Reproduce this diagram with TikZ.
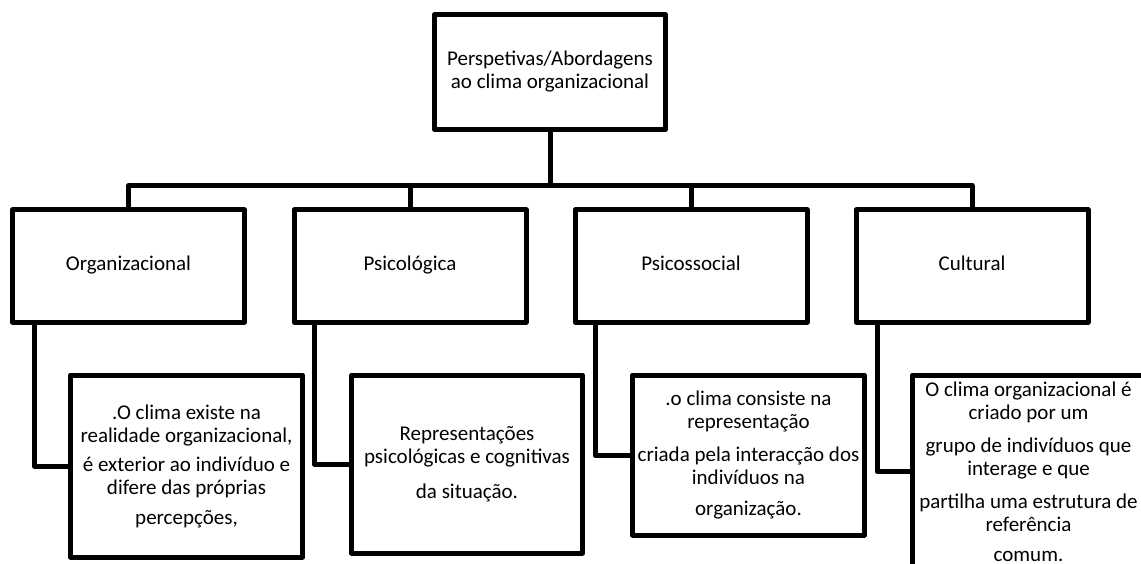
\documentclass[tikz,border=0pt]{standalone}
\usepackage{fontspec}
\setmainfont{Carlito}
\tikzset{
	box/.style={draw, line width=5pt, line join=round, inner sep=2pt, align=center,
		font=\fontsize{21}{23}\selectfont},
	topbox/.style={box, minimum width=231pt, minimum height=115pt},
	catbox/.style={box, minimum width=232pt, minimum height=112pt, text height=15pt, text depth=5pt},
	link/.style={line width=5pt, line join=round}
}
\begin{document}
\begin{tikzpicture}[x=1pt, y=-1pt]
			\clip (0,0) rectangle (1141,564);
			% raiz
			\node[topbox] (root) at (550,72) {Perspetivas/Abordagens\\ao clima organizacional};
			% perspetivas
			\node[catbox] (org) at (128.5,266) {Organizacional};
			\node[catbox] (psic) at (410,266) {Psicológica};
			\node[catbox] (psico) at (691,266) {Psicossocial};
			\node[catbox] (cult) at (972,266) {Cultural};
			% descricoes
			\node[box, minimum width=232pt, minimum height=182pt] (orgd) at (186.5,466)
				{.O clima existe na\\realidade organizacional,\\[6pt]é exterior ao indivíduo e\\difere das próprias\\[7pt]percepções,};
			\node[box, minimum width=231pt, minimum height=178pt] (psicd) at (467,464)
				{Representações\\psicológicas e cognitivas\\[12pt]da situação.};
			\node[box, minimum width=232pt, minimum height=160pt] (psicod) at (748.5,455)
				{.o clima consiste na\\representação\\[10pt]criada pela interacção dos\\indivíduos na\\[8pt]organização.};
			\node[box, minimum width=232pt, minimum height=193pt] (cultd) at (1028.5,471.5)
				{O clima organizacional é\\criado por um\\[10pt]grupo de indivíduos que\\interage e que\\[10pt]partilha uma estrutura de\\referência\\[7pt]comum.};
			
			\coordinate (bar) at (550,185.5);
			\draw[link] (root.south) -- (bar);
			\draw[link] (org.north) -- (org.north |- bar) -- (cult.north |- bar) -- (cult.north);
			\draw[link] (psic.north) -- (psic.north |- bar);
			\draw[link] (psico.north) -- (psico.north |- bar);
			
			\draw[link] (org.south west) ++(24,0) |- (orgd.west);
			\draw[link] (psic.south west) ++(22.5,0) |- (psicd.west);
			\draw[link] (psico.south west) ++(22.5,0) |- (psicod.west);
			\draw[link] (cult.south west) ++(23.5,0) |- (cultd.west);
		\end{tikzpicture}
\end{document}
